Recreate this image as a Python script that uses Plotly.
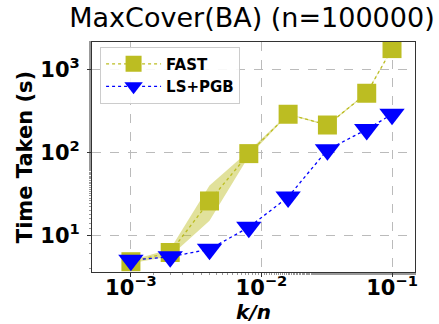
import plotly.graph_objects as go

k_over_n = [0.001, 0.002, 0.004, 0.008, 0.016, 0.032, 0.064, 0.1]
fast = [4.8, 6.2, 26, 97, 290, 215, 520, 1800]
fast_low = [4.6, 5.6, 15, 90, 285, 210, 510, 1780]
fast_high = [5.0, 6.8, 40, 104, 295, 220, 530, 1820]
lspgb = [5.0, 5.5, 6.8, 12.5, 29, 108, 190, 290]

xtick_vals = [1e-3, 1e-2, 1e-1]
xtick_text = ["10<sup>−3</sup>", "10<sup>−2</sup>", "10<sup>−1</sup>"]
ytick_vals = [10, 100, 1000]
ytick_text = ["10<sup>1</sup>", "10<sup>2</sup>", "10<sup>3</sup>"]

olive = "#bcbd22"
blue = "#0000ff"

fig = go.Figure()
fig.add_trace(go.Scatter(
    x=k_over_n + k_over_n[::-1], y=fast_high + fast_low[::-1],
    fill="toself", fillcolor="rgba(188,189,34,0.45)", line=dict(width=0),
    mode="lines", showlegend=False, hoverinfo="skip"))
fig.add_trace(go.Scatter(
    x=k_over_n, y=fast, name="FAST", mode="lines+markers",
    line=dict(color=olive, width=1.3, dash="dot"),
    marker=dict(symbol="square", size=19, color=olive)))
fig.add_trace(go.Scatter(
    x=k_over_n, y=lspgb, name="LS+PGB", mode="lines+markers",
    line=dict(color=blue, width=1.3, dash="dot"),
    marker=dict(symbol="triangle-down", size=22, color=blue)))

axis_common = dict(
    showline=True, linecolor="#333", linewidth=1, mirror=True,
    showgrid=True, gridcolor="#bbbbbb", griddash="dash", gridwidth=1,
    ticks="outside", ticklen=4, tickcolor="#333",
    tickfont=dict(family="DejaVu Sans", size=21, color="black", weight="bold"),
    zeroline=False, automargin=False,
)

fig.update_xaxes(type="log", range=[-3.298, -0.824],
                 tickvals=xtick_vals, ticktext=xtick_text,
                 ticklabelstandoff=-7,
                 minor=dict(ticks="outside", ticklen=2, tickcolor="#999", showgrid=False),
                 title=dict(text="<b><i>k/n</i></b>", standoff=21,
                            font=dict(family="DejaVu Sans", size=20, color="black")),
                 **axis_common)
fig.update_yaxes(type="log", range=[0.557, 3.335],
                 tickvals=ytick_vals, ticktext=ytick_text,
                 ticklabelstandoff=3,
                 minor=dict(ticks="outside", ticklen=2, tickcolor="#999", showgrid=False),
                 title=dict(text="<b>Time Taken (s)</b>", standoff=1,
                            font=dict(family="DejaVu Sans", size=21, color="black")),
                 **axis_common)

fig.update_layout(
    width=439, height=324,
    margin=dict(l=92, r=24, t=42, b=52),
    paper_bgcolor="white", plot_bgcolor="white",
    title=dict(text="MaxCover(BA) (n=100000)", x=0.574, xanchor="center",
               y=0.975, yanchor="top",
               font=dict(family="DejaVu Sans", size=27, color="black")),
    legend=dict(x=0.025, y=0.98, xanchor="left", yanchor="top",
                bgcolor="rgba(255,255,255,0.9)", bordercolor="#cccccc", borderwidth=1,
                font=dict(family="DejaVu Sans", size=15, color="black", weight="bold"),
                itemwidth=55, tracegroupgap=0),
    showlegend=True,
)

fig.write_html("out.html")
